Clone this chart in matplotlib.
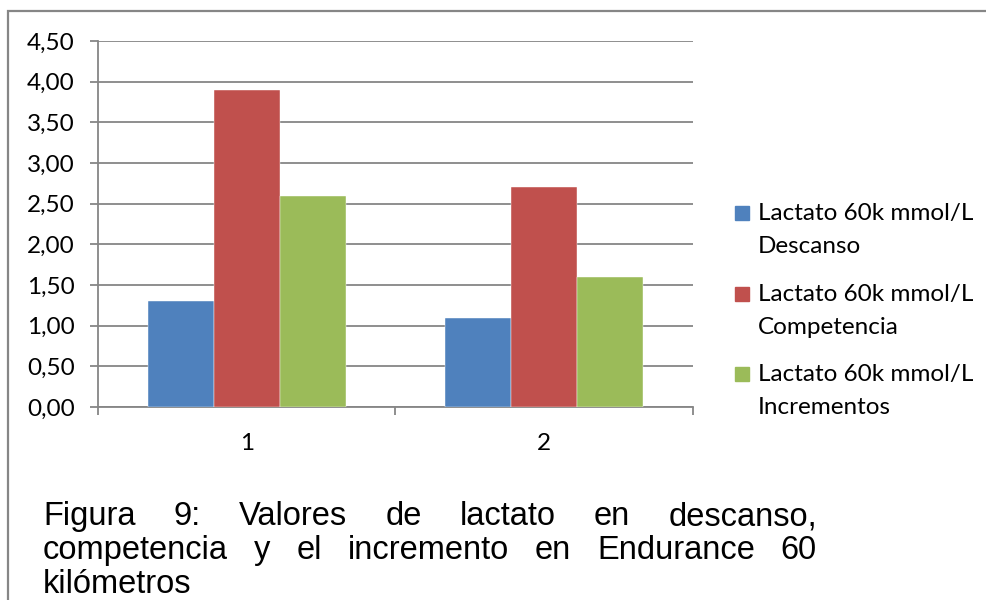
import matplotlib
matplotlib.use("Agg")
import matplotlib.pyplot as plt
from matplotlib.patches import Rectangle
from matplotlib.ticker import FuncFormatter, MultipleLocator
import numpy as np

# --- data ---
categories = ["1", "2"]
descanso = [1.3, 1.1]
competencia = [3.9, 2.7]
incrementos = [2.6, 1.6]
series_names = [
    "Lactato 60k mmol/L Descanso",
    "Lactato 60k mmol/L Competencia",
    "Lactato 60k mmol/L Incrementos",
]
colors = ["#4F81BD", "#C0504D", "#9BBB59"]
caption_lines = [
    "Figura 9: Valores de lactato en descanso,",
    "competencia y el incremento en Endurance 60",
    "kilómetros",
]

W, H = 987, 600
GRAY = "#868686"
UI_FONT = ["Lato", "DejaVu Sans"]
UI_SIZE = 17.5


def fx(px):
    return px / W


def fy(py):
    return 1 - py / H


fig = plt.figure(figsize=(W / 100, H / 100), dpi=100)
ax = fig.add_axes([fx(98), fy(407), fx(693) - fx(98), fy(41) - fy(407)])

# Excel style: 3 bars per category, gap width 150%
series = [descanso, competencia, incrementos]
x = np.arange(1, len(categories) + 1)
bw = 1 / (len(series) + 1.5)
for i, (vals, col) in enumerate(zip(series, colors)):
    ax.bar(x + (i - 1) * bw, vals, width=bw, color=col, zorder=3,
           edgecolor="white", linewidth=0.3)

ax.set_xlim(0.5, len(categories) + 0.5)
ax.set_ylim(0, 4.5)
ax.yaxis.set_major_locator(MultipleLocator(0.5))
ax.yaxis.set_major_formatter(FuncFormatter(lambda v, _: f"{v:.2f}".replace(".", ",")))
ax.grid(axis="y", color=GRAY, linewidth=1.3, zorder=0)

ax.set_xticks(x)
ax.set_xticklabels(categories)
ax.set_xticks(np.arange(0.5, len(categories) + 1, 1), minor=True)
ax.tick_params(axis="x", which="major", length=0, pad=19)
ax.tick_params(axis="x", which="minor", length=5.5, width=1.3, color=GRAY, direction="out")
ax.tick_params(axis="y", length=5.8, width=1.3, color=GRAY, pad=11)
for lab in ax.get_xticklabels() + ax.get_yticklabels():
    lab.set_family(UI_FONT)
    lab.set_fontsize(UI_SIZE)
    lab.set_color("black")

for s in ["top", "right"]:
    ax.spines[s].set_visible(False)
for s in ["left", "bottom"]:
    ax.spines[s].set_color(GRAY)
    ax.spines[s].set_linewidth(1.3)

# legend, drawn by hand to keep Excel's two-line layout
for i, (name, col) in enumerate(zip(series_names, colors)):
    base = 220 + i * 80.5
    fig.patches.append(Rectangle((fx(735), fy(base)), fx(14), fy(0) - fy(14),
                                 transform=fig.transFigure, color=col))
    first, second = name.rsplit(" ", 1)
    fig.text(fx(758), fy(base), first, family=UI_FONT, fontsize=UI_SIZE, va="baseline")
    fig.text(fx(758), fy(base + 33), second, family=UI_FONT, fontsize=UI_SIZE, va="baseline")

# chart border (runs off the right and bottom edges)
fig.patches.append(Rectangle((fx(8), fy(H + 20)), fx(W + 20), fy(11) - fy(H + 20),
                             transform=fig.transFigure, fill=False,
                             edgecolor=GRAY, linewidth=1.6))

# justified caption, last line left aligned
cap_left, cap_right = 43, 817
cap_size = 23.5
renderer = fig.canvas.get_renderer()


def word_width(w):
    t = fig.text(0, 0, w, family="Liberation Sans", fontsize=cap_size)
    width = t.get_window_extent(renderer).width
    t.remove()
    return width


for li, line in enumerate(caption_lines):
    base = 525 + li * 34
    words = line.split()
    widths = [word_width(w) for w in words]
    if li < len(caption_lines) - 1 and len(words) > 1:
        gap = (cap_right - cap_left - sum(widths)) / (len(words) - 1)
    else:
        gap = 0
    xpos = cap_left
    for w, wd in zip(words, widths):
        fig.text(fx(xpos), fy(base), w, family="Liberation Sans",
                 fontsize=cap_size, va="baseline")
        xpos += wd + gap

fig.savefig("out.png", dpi=100)
